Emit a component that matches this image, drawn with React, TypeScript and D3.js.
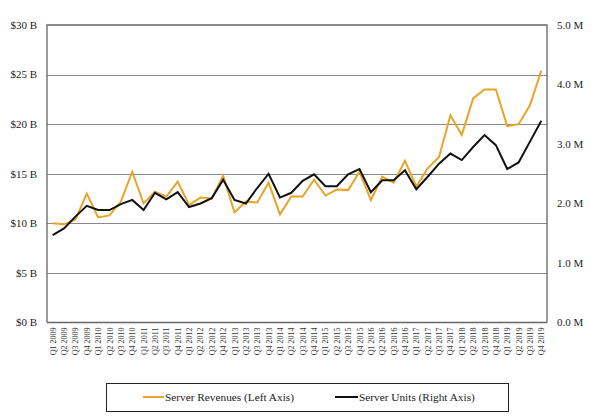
import React from "react";
import * as d3 from "d3";

const years = [2009, 2010, 2011, 2012, 2013, 2014, 2015, 2016, 2017, 2018, 2019];
const quarters: string[] = years.flatMap((y) => [1, 2, 3, 4].map((q) => `Q${q} ${y}`));

// Server revenues, $B (left axis)
const revenues = [
  10.0, 9.9, 10.4, 13.0, 10.6, 10.8, 12.2, 15.2, 12.0, 13.2, 12.7, 14.2,
  11.85, 12.6, 12.5, 14.8, 11.1, 12.2, 12.1, 14.1, 10.9, 12.7, 12.7, 14.4,
  12.8, 13.4, 13.35, 15.2, 12.35, 14.7, 14.1, 16.3, 13.7, 15.55, 16.7, 20.9,
  18.9, 22.6, 23.5, 23.5, 19.8, 20.0, 21.9, 25.4,
];

// Server units, millions (right axis)
const units = [
  1.47, 1.58, 1.78, 1.96, 1.89, 1.89, 1.99, 2.06, 1.89, 2.18, 2.07, 2.19,
  1.94, 2.0, 2.09, 2.4, 2.06, 2.0, 2.26, 2.5, 2.1, 2.18, 2.38, 2.49,
  2.29, 2.29, 2.49, 2.58, 2.19, 2.39, 2.39, 2.56, 2.24, 2.45, 2.67, 2.84,
  2.73, 2.95, 3.15, 2.98, 2.58, 2.69, 3.04, 3.39,
];

const leftTicks = [0, 5, 10, 15, 20, 25, 30];
const rightTicks = [0, 1, 2, 3, 4, 5];

const seriesNames = ["Server Revenues (Left Axis)", "Server Units (Right Axis)"];
const orange = "#E9A427";
const black = "#111111";

export default function App() {
  const W = 600, H = 418;
  const L = 47, R = 547, T = 25, B = 322.5;
  const x = d3.scalePoint<string>().domain(quarters).range([L, R]).padding(0.5);
  const yL = d3.scaleLinear().domain([0, 30]).range([B, T]);
  const yR = d3.scaleLinear().domain([0, 5]).range([B, T]);
  const revLine = d3.line<number>().x((_, i) => x(quarters[i])!).y((d) => yL(d));
  const unitLine = d3.line<number>().x((_, i) => x(quarters[i])!).y((d) => yR(d));
  const font = "'Liberation Serif', 'Times New Roman', serif";

  return (
    <svg width={W} height={H} style={{ position: "absolute", left: 0, top: 0 }} fontFamily={font}>
      <rect width={W} height={H} fill="#fff" />
      {leftTicks.map((t) => (
        <g key={"l" + t}>
          {t > 0 && t < 30 && (
            <line x1={L} x2={R} y1={Math.round(yL(t)) + 0.5} y2={Math.round(yL(t)) + 0.5} stroke="#8a8a8a" strokeWidth={1} />
          )}
          <text x={37} y={yL(t)} dy="0.35em" textAnchor="end" fontSize={11} fill="#222">
            {`$${t} B`}
          </text>
        </g>
      ))}
      {rightTicks.map((t) => (
        <text key={"r" + t} x={557} y={yR(t)} dy="0.35em" textAnchor="start" fontSize={11} fill="#222">
          {`${t.toFixed(1)} M`}
        </text>
      ))}
      <path d={`M${L},${B} V${T} H${R} V${B}`} fill="none" stroke="#666" strokeWidth={1.3} />
      <line x1={L} x2={R} y1={B} y2={B} stroke="#666" strokeWidth={1.5} />
      {quarters.map((q) => (
        <text
          key={q}
          transform={`translate(${x(q)! + 3},${B + 5}) rotate(-90)`}
          textAnchor="end"
          fontSize={8}
          fill="#333"
        >
          {q}
        </text>
      ))}
      <path d={revLine(revenues)!} fill="none" stroke={orange} strokeWidth={2} strokeLinejoin="miter" />
      <path d={unitLine(units)!} fill="none" stroke={black} strokeWidth={2} strokeLinejoin="miter" />
      <rect x={106.5} y={383.5} width={402} height={28} fill="none" stroke="#222" strokeWidth={1} />
      <line x1={143} x2={164} y1={397} y2={397} stroke={orange} strokeWidth={2} />
      <text x={165} y={397} dy="0.35em" fontSize={11.3} fill="#222">{seriesNames[0]}</text>
      <line x1={335} x2={358} y1={397} y2={397} stroke={black} strokeWidth={2} />
      <text x={359} y={397} dy="0.35em" fontSize={11.3} fill="#222">{seriesNames[1]}</text>
    </svg>
  );
}
